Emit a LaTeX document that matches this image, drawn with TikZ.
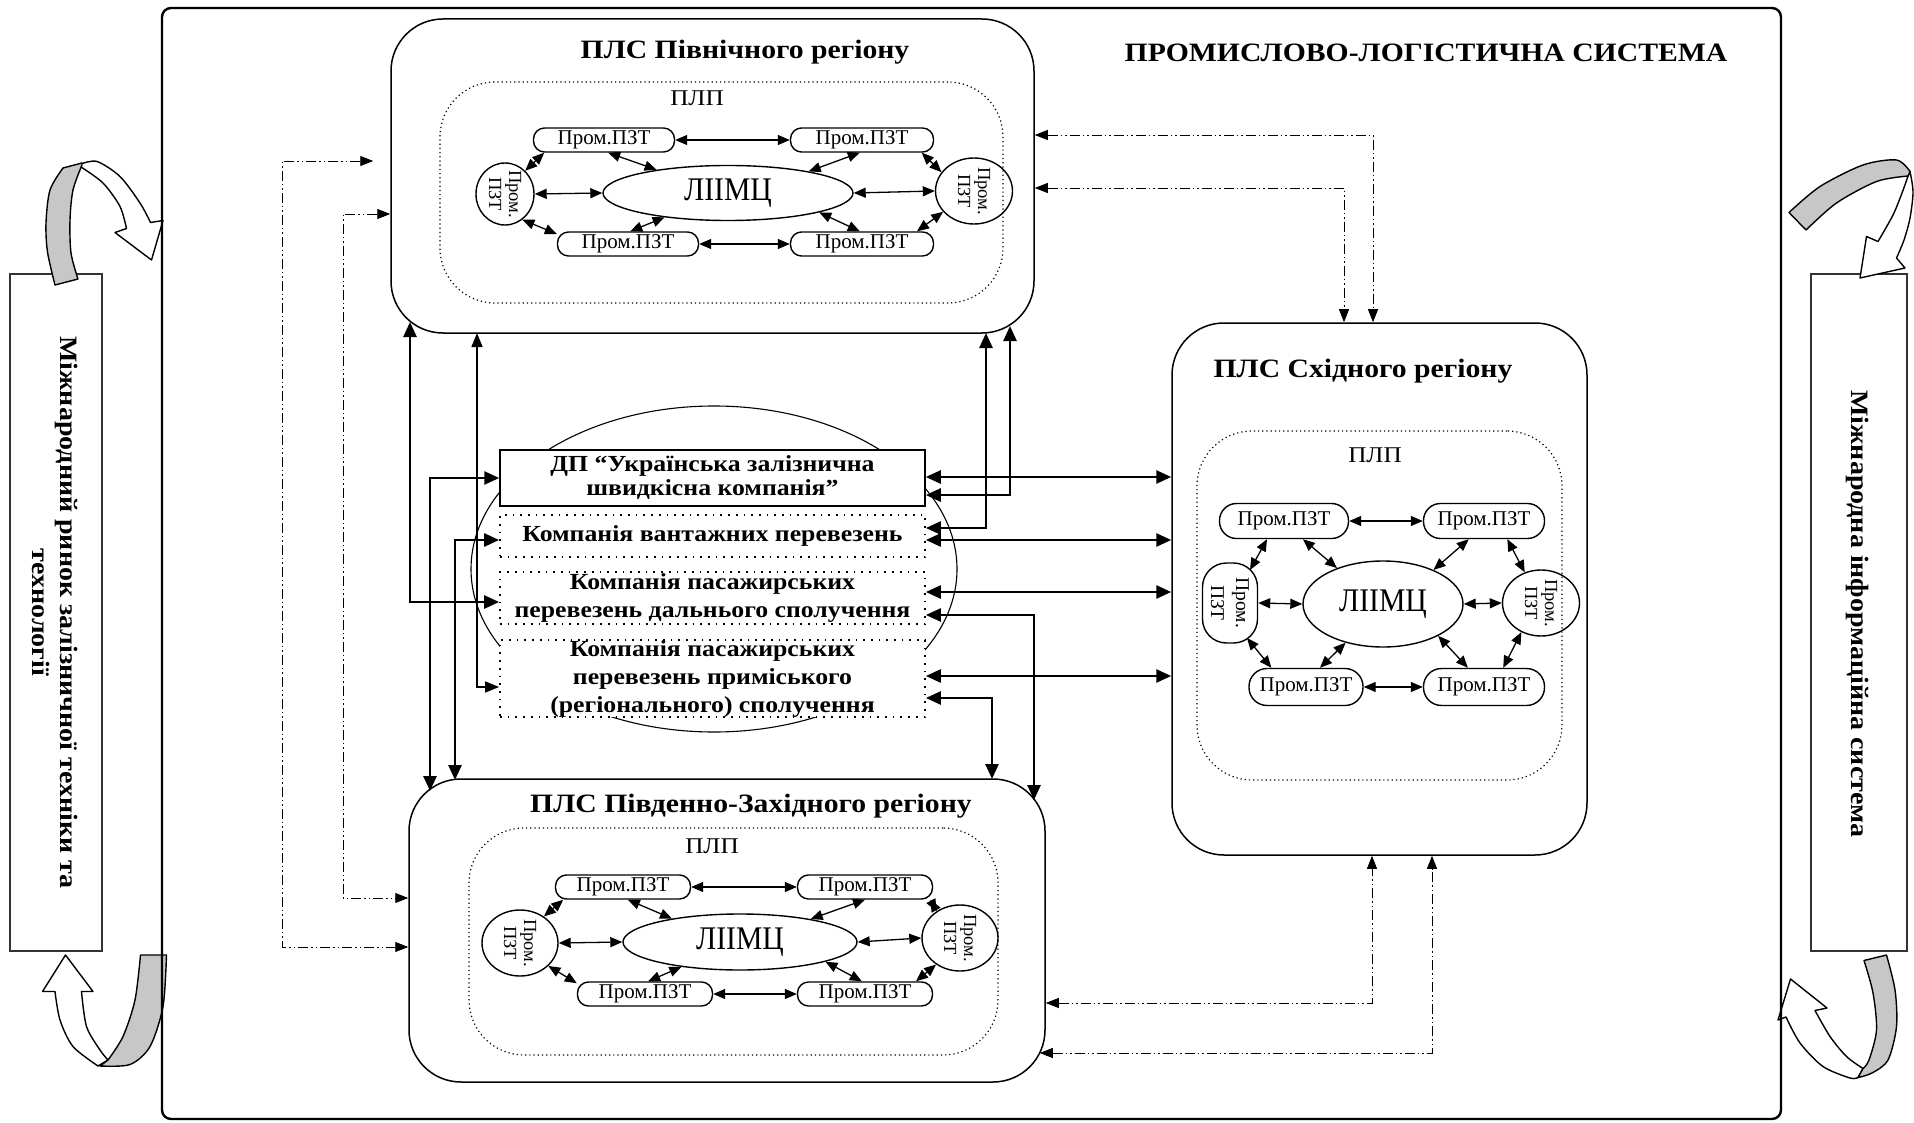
\documentclass[tikz,border=0pt]{standalone}
\usepackage{fontspec}
\setmainfont{Liberation Serif}
\newfontfamily\widefont{Liberation Serif}[FakeStretch=1.12]
\newfontfamily\narrowfont{Liberation Serif}[FakeStretch=0.9]
\usetikzlibrary{arrows.meta,shapes.geometric,calc}

\tikzset{
  outerframe/.style={draw, line width=2.4pt, rounded corners=9pt},
  region/.style={draw, line width=1.5pt, rounded corners=52pt, inner sep=0pt},
  plpzone/.style={draw, line width=1.2pt, dash pattern=on 1.2pt off 3pt, rounded corners=55pt, inner sep=0pt},
  pzt/.style={draw, line width=1.4pt, rounded corners=11pt, minimum height=24pt, inner sep=0pt,
    font=\fontsize{21}{22}\selectfont},
  pztoval/.style={draw, ellipse, line width=1.4pt, inner sep=0pt},
  pztlabel/.style={rotate=-90, align=center, inner sep=0pt, font=\fontsize{18.5}{20}\selectfont},
  hub/.style={draw, ellipse, line width=1.4pt, inner sep=0pt, font=\narrowfont\fontsize{33}{34}\selectfont},
  link/.style={line width=1.3pt, {Triangle[length=12pt,width=10pt]}-{Triangle[length=12pt,width=10pt]}},
  flow/.style={line width=2.6pt, {Triangle[length=15pt,width=13pt]}-{Triangle[length=15pt,width=13pt]}},
  thinflow/.style={line width=1.3pt, {Triangle[length=14pt,width=11pt]}-{Triangle[length=14pt,width=11pt]}},
  infoflow/.style={line width=0.9pt, dash pattern=on 10pt off 3pt on 1.5pt off 3pt on 1.5pt off 3pt,
    {Triangle[length=13pt,width=10pt]}-{Triangle[length=13pt,width=10pt]}},
  regiontitle/.style={inner sep=0pt, anchor=base, font=\widefont\bfseries\fontsize{26.5}{30}\selectfont},
  plplabel/.style={inner sep=0pt, anchor=base, font=\widefont\fontsize{22.5}{24}\selectfont},
  company/.style={minimum width=425pt, inner sep=0pt, align=center, fill=white,
    font=\widefont\bfseries\fontsize{23}{28}\selectfont},
  dotbox/.style={company, draw, line width=1.7pt, dash pattern=on 1.7pt off 6pt},
  sidebox/.style={draw=black!80, line width=1.3pt, inner sep=0pt},
  sidetext/.style={rotate=-90, align=center, inner sep=0pt, font=\widefont\bfseries\fontsize{25}{28}\selectfont},
  curveband/.style={draw, line width=1.4pt, fill=black!22, line join=round},
  arrowbody/.style={draw, line width=1.4pt, fill=white, line join=round},
}

\begin{document}
\begin{tikzpicture}[x=1pt, y=-1pt]
\useasboundingbox (0,0) rectangle (1914,1123);

% ---------- external boxes ----------
\node[sidebox, minimum width=92pt, minimum height=677pt] (market) at (56,612.5) {};
\node[sidetext] (marketText) at (55,612.5) {Міжнародний ринок залізничної техніки та\\технології};
\node[sidebox, minimum width=96pt, minimum height=677pt] (infosys) at (1859,612.5) {};
\node[sidetext] (infosysText) at (1857,614) {Міжнародна інформаційна система};

% ---------- curved exchange arrows ----------
% upper left
\draw[arrowbody] plot[smooth] coordinates {(81,164) (97,161.5) (120,176.5) (140,203) (150.5,222.5)}
  -- (163,220.5) -- (151.5,260) -- (115,232.5) -- (126.5,228.5)
  -- plot[smooth] coordinates {(126.5,228.5) (120,206.5) (103,183) (81,167)} -- cycle;
\draw[curveband] plot[smooth] coordinates {(55,285) (47.5,252) (46,223) (50,190) (63,168)}
  -- (82,163) -- plot[smooth] coordinates {(82,165) (73,190) (70,220) (71,253) (78,279)} -- cycle;
% lower left
\draw[arrowbody] plot[smooth] coordinates {(108,1060) (100,1050) (86.5,1026.5) (81.5,991.5)}
  -- (93,991.5) -- (65.5,955) -- (42.5,991.5) -- (55,991.5)
  -- plot[smooth] coordinates {(55,991.5) (60,1020) (73,1046.5) (98,1066)} -- cycle;
\draw[curveband] (140.5,955) -- (166.5,955)
  -- plot[smooth] coordinates {(166.5,955) (163,1006.5) (150,1046.5) (130,1064.5) (100,1066)}
  -- (108,1060) -- plot[smooth] coordinates {(108,1060) (123,1036.5) (135,1000) (140.5,955)} -- cycle;
% upper right
\draw[arrowbody] plot[smooth] coordinates {(1910,171.5) (1913,192) (1910,218) (1904,240) (1896.5,258)}
  -- (1905,268) -- (1860,278) -- (1866.5,236.5) -- (1878,241.5)
  -- plot[smooth] coordinates {(1878,241.5) (1893,215) (1902,193) (1908,176)} -- cycle;
\draw[curveband] plot[smooth] coordinates {(1789,212.5) (1820,186.5) (1863,165) (1896.5,160) (1910,171.5)}
  -- (1908,176) -- plot[smooth] coordinates {(1908,176) (1876.5,181.5) (1836.5,203) (1806,230)} -- cycle;
% lower right
\draw[arrowbody] plot[smooth] coordinates {(1863,1068.5) (1846.5,1056.5) (1830,1036.5) (1815,1010.5)}
  -- (1827,1008) -- (1790.5,979) -- (1778,1020) -- (1786,1017)
  -- plot[smooth] coordinates {(1786,1017) (1800,1043) (1823,1066.5) (1850,1078) (1858,1077.5)} -- cycle;
\draw[curveband] (1864,960.5) -- (1886.5,955)
  -- plot[smooth] coordinates {(1886.5,955) (1895,990) (1896.5,1026.5) (1888,1060) (1872,1073) (1858,1077.5)}
  -- (1863,1068.5) -- plot[smooth] coordinates {(1863,1068.5) (1869,1060) (1876.5,1030) (1873,993) (1864,960.5)} -- cycle;

% ---------- industrial-logistics system frame ----------
\node[outerframe, minimum width=1619pt, minimum height=1111pt, inner sep=0pt] (system) at (971.5,563.5) {};
\node[regiontitle] (systemTitle) at (1426,62) {ПРОМИСЛОВО-ЛОГІСТИЧНА СИСТЕМА};

% ---------- regional systems ----------
\node[region, minimum width=643pt, minimum height=314pt] (N) at (712.5,176) {};
\node[region, minimum width=636pt, minimum height=303pt] (S) at (727,930.5) {};
\node[region, minimum width=415pt, minimum height=532pt] (E) at (1379.5,589) {};

\node[regiontitle] (Ntitle) at (745,59) {ПЛС Північного регіону};
\node[regiontitle] (Stitle) at (751,812) {ПЛС Південно-Західного регіону};
\node[regiontitle] (Etitle) at (1363,377) {ПЛС Східного регіону};

\node[plpzone, minimum width=563pt, minimum height=221pt] (Nplp) at (721.5,192.5) {};
\node[plpzone, minimum width=529pt, minimum height=227pt] (Splp) at (733.5,941.5) {};
\node[plpzone, minimum width=365pt, minimum height=349pt] (Eplp) at (1379.5,605.5) {};

\node[plplabel] (NplpText) at (697,106) {ПЛП};
\node[plplabel] (SplpText) at (712,853) {ПЛП};
\node[plplabel] (EplpText) at (1375,462.5) {ПЛП};

% ---------- northern cluster ----------
\node[pzt, minimum width=141pt] (NTL) at (604,140) {Пром.ПЗТ};
\node[pzt, minimum width=143pt] (NTR) at (862,140) {Пром.ПЗТ};
\node[pzt, minimum width=141pt] (NBL) at (628,244) {Пром.ПЗТ};
\node[pzt, minimum width=143pt] (NBR) at (862,244) {Пром.ПЗТ};
\node[pztoval, minimum width=58pt, minimum height=62pt] (NL) at (505,194) {};
\node[pztlabel] (NLt) at (NL) {Пром.\\ПЗТ};
\node[pztoval, minimum width=77pt, minimum height=66pt] (NR) at (974,191) {};
\node[pztlabel] (NRt) at (NR) {Пром.\\ПЗТ};
\node[hub, minimum width=250pt, minimum height=55pt] (NC) at (728,193) {ЛІІМЦ};

\draw[link] (NTL.east) -- (NTR.west);
\draw[link] (NTL.192) -- (NL.49);
\draw[link] (NTL.-72) -- (NC.162);
\draw[link] (NL.east) -- (NC.west);
\draw[link] (NC.201) -- (NBL.80);
\draw[link] (NL.-56) -- (NBL.172);
\draw[link] (NTR.260) -- (NC.15);
\draw[link] (NTR.-12) -- (NR.150);
\draw[link] (NC.east) -- (NR.west);
\draw[link] (NC.-12) -- (NBR.100);
\draw[link] (NR.214) -- (NBR.13);
\draw[link] (NBL.east) -- (NBR.west);

% ---------- south-western cluster ----------
\node[pzt, minimum width=135pt] (STL) at (623,887) {Пром.ПЗТ};
\node[pzt, minimum width=135pt] (STR) at (865,887) {Пром.ПЗТ};
\node[pzt, minimum width=135pt] (SBL) at (645,994) {Пром.ПЗТ};
\node[pzt, minimum width=135pt] (SBR) at (865,994) {Пром.ПЗТ};
\node[pztoval, minimum width=76pt, minimum height=66pt] (SL) at (520,943) {};
\node[pztlabel] (SLt) at (SL) {Пром.\\ПЗТ};
\node[pztoval, minimum width=76pt, minimum height=66pt] (SR) at (960,938) {};
\node[pztlabel] (SRt) at (SR) {Пром.\\ПЗТ};
\node[hub, minimum width=234pt, minimum height=56pt] (SC) at (740,942) {ЛІІМЦ};

\draw[link] (STL.east) -- (STR.west);
\draw[link] (STL.192) -- (SL.48);
\draw[link] (STL.-69) -- (SC.161);
\draw[link] (SL.east) -- (SC.west);
\draw[link] (SC.203) -- (SBL.76);
\draw[link] (SL.-39) -- (SBL.171);
\draw[link] (STR.270) -- (SC.18);
\draw[link] (STR.-11) -- (SR.131);
\draw[link] (SC.east) -- (SR.west);
\draw[link] (SC.-13) -- (SBR.104);
\draw[link] (SR.228) -- (SBR.14);
\draw[link] (SBL.east) -- (SBR.west);

% ---------- eastern cluster ----------
\node[pzt, minimum width=129pt, minimum height=35pt, rounded corners=17pt] (ETL) at (1284,521) {Пром.ПЗТ};
\node[pzt, minimum width=121pt, minimum height=35pt, rounded corners=17pt] (ETR) at (1484,521) {Пром.ПЗТ};
\node[pzt, minimum width=114pt, minimum height=37pt, rounded corners=18pt] (EBL) at (1306,687) {Пром.ПЗТ};
\node[pzt, minimum width=121pt, minimum height=37pt, rounded corners=18pt] (EBR) at (1484,687) {Пром.ПЗТ};
\node[draw, line width=1.4pt, rounded corners=24pt, minimum width=55pt, minimum height=80pt, inner sep=0pt] (EL) at (1230,603) {};
\node[pztlabel, font=\fontsize{19.5}{25}\selectfont] (ELt) at (EL) {Пром.\\ПЗТ};
\node[pztoval, minimum width=77pt, minimum height=66pt] (ER) at (1541,603) {};
\node[pztlabel] (ERt) at (ER) {Пром.\\ПЗТ};
\node[hub, minimum width=160pt, minimum height=86pt] (EC) at (1383,604) {ЛІІМЦ};

\draw[link] (ETL.east) -- (ETR.west);
\draw[link] (ETL.227) -- ($(EL)+(20,-33)$);
\draw[link] (ETL.-44) -- (EC.142);
\draw[link] (EL.east) -- (EC.west);
\draw[link] ($(EL)+(17,35)$) -- (EBL.151);
\draw[link] (EC.-134) -- (EBL.54);
\draw[link] (EBL.east) -- (EBR.west);
\draw[link] (ETR.230) -- (EC.34);
\draw[link] (ETR.-38) -- (ER.118);
\draw[link] (EC.east) -- (ER.west);
\draw[link] (EC.-30) -- (EBR.130);
\draw[link] (ER.236) -- (EBR.45);

% ---------- railway companies ----------
\node[draw, ellipse, line width=1.1pt, minimum width=486pt, minimum height=326pt, inner sep=0pt] (group) at (714,569) {};
\node[company, draw, line width=1.5pt, minimum height=56pt, font=\widefont\bfseries\fontsize{23}{24}\selectfont] (DP) at (712.5,478)
  {ДП “Українська залізнична\\швидкісна компанія”};
\node[dotbox, minimum height=42pt] (C2) at (712.5,536) {Компанія вантажних перевезень};
\node[dotbox, minimum height=52pt] (C3) at (712.5,598) {Компанія пасажирських\\перевезень дальнього сполучення};
\node[dotbox, minimum height=77pt] (C4) at (712.5,678.5) {Компанія пасажирських\\перевезень приміського\\(регіонального) сполучення};

% points where connectors meet the rounded region borders
\coordinate (nA) at (410,322);
\coordinate (nB) at (477,333);
\coordinate (nC) at (1010,326);
\coordinate (nD) at (986,333);
\coordinate (sA) at (430,791);
\coordinate (sB) at (455,780);
\coordinate (sC) at (1034,800);
\coordinate (sD) at (992,779);

% material and service flows
\draw[flow] ([yshift=-4pt]C3.west) -| (nA);
\draw[flow] (DP.west) -| (sA);
\draw[flow] ([yshift=-4pt]C2.west) -| (sB);
\draw[thinflow] ([yshift=-8.5pt]C4.west) -| (nB);
\draw[flow] ([yshift=-17pt]DP.east) -| (nC);
\draw[flow] ([yshift=8pt]C2.east) -| (nD);
\draw[flow] ([yshift=-17pt]C3.east) -| (sC);
\draw[flow] ([yshift=-19.5pt]C4.east) -| (sD);

\coordinate (g1) at ([yshift=1pt]DP.east);
\coordinate (g2) at ([yshift=-4pt]C2.east);
\coordinate (g3) at ([yshift=6pt]C3.east);
\coordinate (g4) at ([yshift=2.5pt]C4.east);
\draw[flow] (g1) -- (g1 -| E.west);
\draw[flow] (g2) -- (g2 -| E.west);
\draw[flow] (g3) -- (g3 -| E.west);
\draw[flow] (g4) -- (g4 -| E.west);

% information links between regions
\draw[infoflow, shorten <=17pt] ([yshift=15pt]N.west) -- ++(-108,0) |- ([yshift=-16.5pt]S.west);
\draw[infoflow] ([yshift=-38pt]N.west) -- ++(-47,0) |- ([yshift=32.5pt]S.west);
\draw[infoflow] ([yshift=41pt]N.east) -| ([xshift=-6.5pt]E.north);
\draw[infoflow] ([yshift=-12pt]N.east) -| ([xshift=-35.5pt]E.north);
\draw[infoflow] ([yshift=-72.5pt]S.east) -| ([xshift=-7.5pt]E.south);
\draw[infoflow] ([yshift=-122.5pt,xshift=-6pt]S.east) -| ([xshift=52.5pt]E.south);

\end{tikzpicture}
\end{document}
